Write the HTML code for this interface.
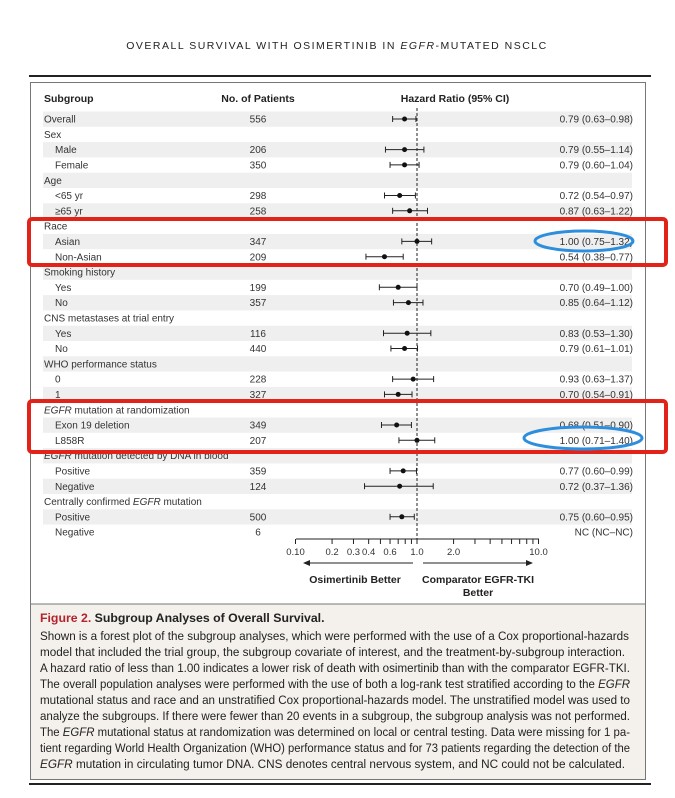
<!DOCTYPE html>
<html><head><meta charset="utf-8"><style>
html,body{margin:0;padding:0;background:#fff}
svg{display:block}
text{font-family:"Liberation Sans",sans-serif}
</style></head><body>
<svg id="s" width="675" height="798" viewBox="0 0 675 798" xmlns="http://www.w3.org/2000/svg">
<text x="337" y="49" text-anchor="middle" font-family="Liberation Serif" font-size="10.5" letter-spacing="1.5" fill="#222">OVERALL SURVIVAL WITH OSIMERTINIB IN <tspan font-style="italic">EGFR</tspan>-MUTATED NSCLC</text>
<rect x="29" y="75" width="622" height="2" fill="#222"/>
<rect x="30.5" y="82.5" width="615" height="697" fill="#fff" stroke="#777" stroke-width="1"/>
<rect x="31" y="604" width="614" height="175" fill="#f4f1ec"/>
<line x1="31" y1="604" x2="645" y2="604" stroke="#777"/>
<rect x="29" y="783" width="622" height="2" fill="#222"/>
<g id="g"></g>
<g font-size="12.3" fill="#222">
<text x="40" y="622" font-weight="bold"><tspan fill="#b5222d">Figure 2.</tspan> Subgroup Analyses of Overall Survival.</text>
<text x="40" y="640" textLength="589" lengthAdjust="spacingAndGlyphs">Shown is a forest plot of the subgroup analyses, which were performed with the use of a Cox proportional-hazards</text>
<text x="40" y="656" textLength="585" lengthAdjust="spacingAndGlyphs">model that included the trial group, the subgroup covariate of interest, and the treatment-by-subgroup interaction.</text>
<text x="40" y="672" textLength="590" lengthAdjust="spacingAndGlyphs">A hazard ratio of less than 1.00 indicates a lower risk of death with osimertinib than with the comparator EGFR-TKI.</text>
<text x="40" y="688" textLength="590" lengthAdjust="spacingAndGlyphs">The overall population analyses were performed with the use of both a log-rank test stratified according to the <tspan font-style="italic">EGFR</tspan></text>
<text x="40" y="704" textLength="590" lengthAdjust="spacingAndGlyphs">mutational status and race and an unstratified Cox proportional-hazards model. The unstratified model was used to</text>
<text x="40" y="720" textLength="590" lengthAdjust="spacingAndGlyphs">analyze the subgroups. If there were fewer than 20 events in a subgroup, the subgroup analysis was not performed.</text>
<text x="40" y="736" textLength="590" lengthAdjust="spacingAndGlyphs">The <tspan font-style="italic">EGFR</tspan> mutational status at randomization was determined on local or central testing. Data were missing for 1 pa-</text>
<text x="40" y="752" textLength="590" lengthAdjust="spacingAndGlyphs">tient regarding World Health Organization (WHO) performance status and for 73 patients regarding the detection of the</text>
<text x="40" y="768" textLength="585" lengthAdjust="spacingAndGlyphs"><tspan font-style="italic">EGFR</tspan> mutation in circulating tumor DNA. CNS denotes central nervous system, and NC could not be calculated.</text>
</g>
</svg>
<script>
var g=document.getElementById('g'),h='';
function X(v){return 417+121.5*Math.log10(v);}
var rows=[
['Overall',0,'556',.79,.63,.98],['Sex',0],['Male',1,'206',.79,.55,1.14],['Female',1,'350',.79,.60,1.04],
['Age',0],['&lt;65 yr',1,'298',.72,.54,.97],['≥65 yr',1,'258',.87,.63,1.22],['Race',0],['Asian',1,'347',1.00,.75,1.32],
['Non-Asian',1,'209',.54,.38,.77],['Smoking history',0],['Yes',1,'199',.70,.49,1.00],['No',1,'357',.85,.64,1.12],
['CNS metastases at trial entry',0],['Yes',1,'116',.83,.53,1.30],['No',1,'440',.79,.61,1.01],['WHO performance status',0],
['0',1,'228',.93,.63,1.37],['1',1,'327',.70,.54,.91],['<tspan font-style="italic">EGFR</tspan> mutation at randomization',0],
['Exon 19 deletion',1,'349',.68,.51,.90],['L858R',1,'207',1.00,.71,1.40],['<tspan font-style="italic">EGFR</tspan> mutation detected by DNA in blood',0],
['Positive',1,'359',.77,.60,.99],['Negative',1,'124',.72,.37,1.36],['Centrally confirmed <tspan font-style="italic">EGFR</tspan> mutation',0],
['Positive',1,'500',.75,.60,.95],['Negative',1,'6','NC']];
h+='<g font-size="10.5" font-weight="bold" fill="#222"><text x="44" y="102">Subgroup</text><text x="258" y="102" text-anchor="middle">No. of Patients</text><text x="455" y="102" text-anchor="middle">Hazard Ratio (95% CI)</text></g>';
rows.forEach(function(r,i){var y=119+i*15.3;
 if(i%2==0)h+='<rect x="43" y="'+(y-7.5)+'" width="589" height="15.3" fill="#efefef"/>';});
h+='<line x1="417" y1="108" x2="417" y2="539" stroke="#222" stroke-dasharray="3,2"/>';
rows.forEach(function(r,i){var y=119+i*15.3,ty=y+3.6;
 h+='<text x="'+(r[1]?55:44)+'" y="'+ty+'" font-size="10" fill="#333">'+r[0]+'</text>';
 if(r[2])h+='<text x="258" y="'+ty+'" font-size="10" fill="#333" text-anchor="middle">'+r[2]+'</text>';
 if(r[3]==='NC'){h+='<text x="633" y="'+ty+'" font-size="10" fill="#333" text-anchor="end">NC (NC–NC)</text>';}
 else if(r[3]){var a=X(r[4]),b=X(r[5]),c=X(r[3]);
  h+='<line x1="'+a+'" y1="'+y+'" x2="'+b+'" y2="'+y+'" stroke="#222"/><line x1="'+a+'" y1="'+(y-3)+'" x2="'+a+'" y2="'+(y+3)+'" stroke="#222"/><line x1="'+b+'" y1="'+(y-3)+'" x2="'+b+'" y2="'+(y+3)+'" stroke="#222"/><circle cx="'+c+'" cy="'+y+'" r="2.5" fill="#111"/>';
  h+='<text x="633" y="'+ty+'" font-size="10" fill="#333" text-anchor="end">'+r[3].toFixed(2)+' ('+r[4].toFixed(2)+'–'+r[5].toFixed(2)+')</text>';}
});
h+='<line x1="296" y1="539" x2="539" y2="539" stroke="#222"/>';
[.1,.2,.3,.4,.5,.6,.7,.8,.9,1,2,3,4,5,6,7,8,9,10].forEach(function(v){h+='<line x1="'+X(v)+'" y1="539" x2="'+X(v)+'" y2="544" stroke="#222"/>';});
[['0.10',.1],['0.2',.2],['0.3',.3],['0.4',.4],['0.6',.6],['1.0',1],['2.0',2],['10.0',10]].forEach(function(t){h+='<text x="'+X(t[1])+'" y="555" font-size="9.5" fill="#333" text-anchor="middle">'+t[0]+'</text>';});
h+='<line x1="308" y1="563" x2="413" y2="563" stroke="#222"/><path d="M303 563 l7 -3 v6z" fill="#222"/>';
h+='<line x1="423" y1="563" x2="528" y2="563" stroke="#222"/><path d="M533 563 l-7 -3 v6z" fill="#222"/>';
h+='<g font-size="10.5" font-weight="bold" fill="#222" text-anchor="middle"><text x="355" y="583">Osimertinib Better</text><text x="478" y="583">Comparator EGFR-TKI</text><text x="478" y="596">Better</text></g>';
h+='<rect x="29" y="219" width="637" height="46" rx="3" fill="none" stroke="#e2231a" stroke-width="4"/>';
h+='<rect x="29" y="401" width="637" height="51" rx="3" fill="none" stroke="#e2231a" stroke-width="4"/>';
h+='<ellipse cx="584" cy="241" rx="49" ry="10" fill="none" stroke="#2e8ede" stroke-width="3"/>';
h+='<ellipse cx="583" cy="438" rx="59" ry="11" fill="none" stroke="#2e8ede" stroke-width="3"/>';
g.innerHTML=h;
</script>
</body></html>
